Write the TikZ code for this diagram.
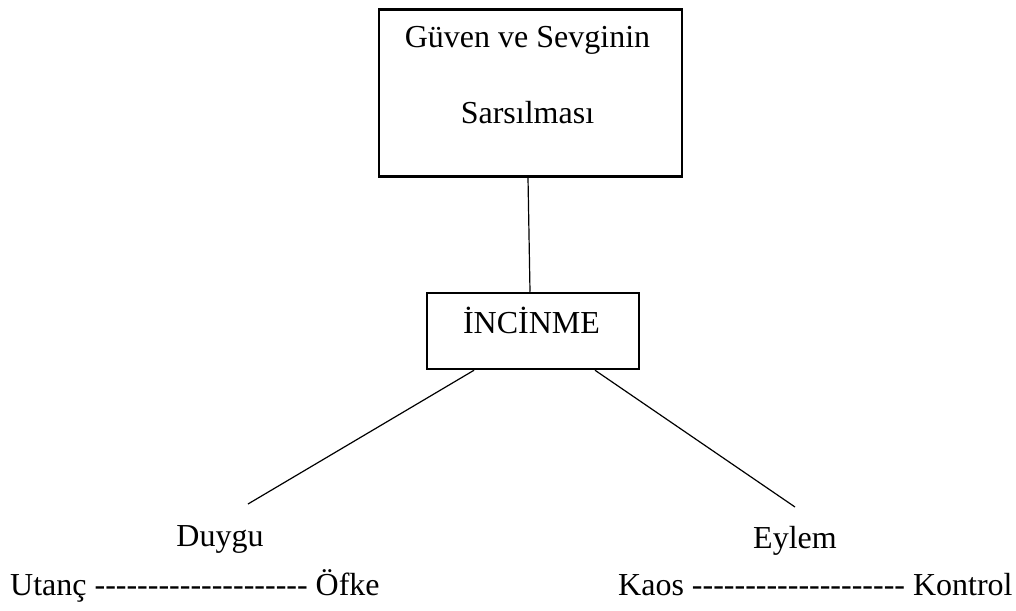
\documentclass[tikz,border=0pt]{standalone}
\usepackage{fontspec}
\setmainfont{Liberation Serif}
\newcommand\hy{\mbox{-}}
\newcommand\dashrow{\hy\hy\hy\hy\hy\hy\hy\hy\hy\hy\hy\hy\hy\hy\hy\hy\hy\hy\hy\hy}
\begin{document}
\begin{tikzpicture}[x=1pt,y=-1pt,
  box/.style={draw, line width=2.5pt, inner sep=0pt},
  conn/.style={draw, line width=1.2pt},
  lbl/.style={anchor=base, inner sep=0pt, font=\fontsize{32}{38}\selectfont}]
\useasboundingbox (0,0) rectangle (1016,610);
\node[box, minimum width=303pt, minimum height=167pt] (top) at (530.5,93) {};
\node[lbl] (t1) at (527.5,48) {Güven ve Sevginin};
\node[lbl] (t2) at (527.5,123) {Sarsılması};
\node[box, minimum width=212pt, minimum height=76pt] (mid) at (533,331) {};
\node[lbl] (m1) at (531.5,333) {İNCİNME};
\coordinate (lend) at (248,504);
\coordinate (rend) at (795,507);
\draw[conn] ([xshift=-2.5pt]top.south) -- ([xshift=-3pt]mid.north);
\draw[conn] ([xshift=-59pt]mid.south) -- (lend);
\draw[conn] ([xshift=62pt]mid.south) -- (rend);
\node[lbl] (duygu) at (220,546) {Duygu};
\node[lbl] (eylem) at (795,548) {Eylem};
\node[lbl, anchor=base west] (utanc) at (10,595) {Utanç \dashrow{} Öfke};
\node[lbl, anchor=base west] (kaos) at (618,595) {Kaos \dashrow{} Kontrol};
\end{tikzpicture}
\end{document}
